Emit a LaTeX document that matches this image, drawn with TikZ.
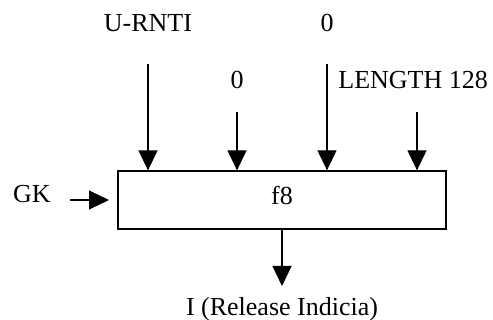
\documentclass[tikz,border=0pt]{standalone}
\usepackage{fontspec}
\setmainfont{Liberation Serif}
\usetikzlibrary{arrows.meta}
\begin{document}
\begin{tikzpicture}[x=0.5pt,y=-0.5pt,
  lbl/.style={font=\fontsize{13}{15}\selectfont, inner sep=0pt, anchor=base},
  arr/.style={line width=0.55pt, -{Triangle[length=10pt,width=9.5pt]}},
  fbox/.style={draw, line width=0.65pt, minimum width=164pt, minimum height=29pt, inner sep=0pt}]
\useasboundingbox (0,0) rectangle (493,320);
\node[fbox] (f8) at (282,200) {};
\node[lbl] (f8t) at (282,205) {f8};
\node[lbl] (urnti) at (148,32) {U-RNTI};
\node[lbl] (zeroA) at (327,32) {0};
\node[lbl] (zeroB) at (237,89) {0};
\node[lbl, anchor=base west] (len) at (338,89) {LENGTH 128};
\node[lbl] (gk) at (32,203) {GK};
\node[lbl] (out) at (282,316) {I (Release Indicia)};
\coordinate (s1) at (148,64);
\coordinate (s2) at (237,112);
\coordinate (s3) at (327,64);
\coordinate (s4) at (417,112);
\coordinate (sg) at (70,200);
\coordinate (eo) at (282,286);
\draw[arr] (s1) -- (s1 |- f8.north);
\draw[arr] (s2) -- (s2 |- f8.north);
\draw[arr] (s3) -- (s3 |- f8.north);
\draw[arr] (s4) -- (s4 |- f8.north);
\draw[arr] (sg) -- (f8.west -| 109,0);
\draw[arr] (f8.south) -- (eo);
\end{tikzpicture}
\end{document}
